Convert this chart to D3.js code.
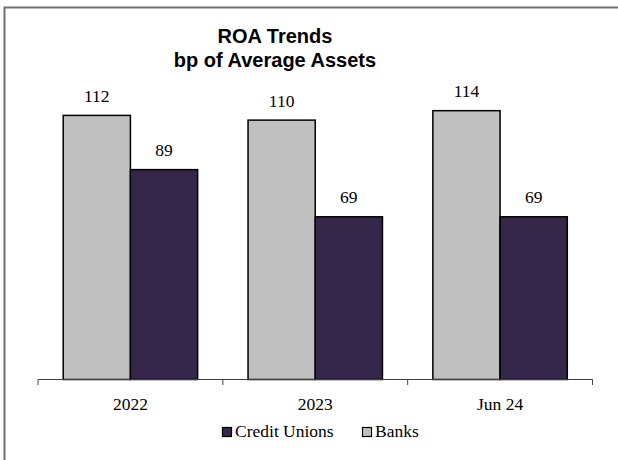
<!DOCTYPE html>
<html>
<head>
<meta charset="utf-8">
<script src="https://cdn.jsdelivr.net/npm/d3@7"></script>
<style>
  html, body { margin: 0; padding: 0; background: #fff; }
  svg { display: block; }
</style>
</head>
<body>
<svg id="chart" width="618" height="460"></svg>
<script>
// ROA by period, basis points of average assets
const categories = ["2022", "2023", "Jun 24"];
const seriesNames = ["Banks", "Credit Unions"];
const banks = [112, 110, 114];
const creditUnions = [89, 69, 69];
const legendOrder = ["Credit Unions", "Banks"];

const colors = { "Banks": "#c0c0c0", "Credit Unions": "#352749" };
const serif = "'Liberation Serif', 'Times New Roman', serif";
const serifSize = 17.5;

const svg = d3.select("#chart");

// outer chart frame (extends past the right and bottom edges)
svg.append("rect")
  .attr("x", 4.5).attr("y", 7.5)
  .attr("width", 700).attr("height", 600)
  .attr("fill", "#fff")
  .attr("stroke", "#707070")
  .attr("stroke-width", 2);

// title
const title = svg.append("text")
  .attr("text-anchor", "middle")
  .attr("font-family", "'Liberation Sans', Arial, sans-serif")
  .attr("font-weight", "bold")
  .attr("font-size", 20)
  .attr("fill", "#000");
title.append("tspan").attr("x", 275).attr("y", 42.5).text("ROA Trends");
title.append("tspan").attr("x", 275).attr("y", 67).text("bp of Average Assets");

// scales
const x = d3.scaleBand().domain(categories).range([38, 592.5]).padding(0);
const x1 = d3.scaleBand().domain(seriesNames).range([0, x.bandwidth()])
  .paddingInner(0).paddingOuter(0.375);
const y = d3.scaleLinear().domain([0, 140]).range([379.5, 379.5 - 2.358 * 140]);

const rows = categories.map((c, i) => ({
  cat: c,
  values: [
    { name: "Banks", value: banks[i] },
    { name: "Credit Unions", value: creditUnions[i] }
  ]
}));

const groups = svg.append("g").selectAll("g")
  .data(rows).join("g")
  .attr("transform", d => `translate(${x(d.cat)},0)`);

groups.selectAll("rect")
  .data(d => d.values).join("rect")
  .attr("x", d => x1(d.name))
  .attr("y", d => y(d.value))
  .attr("width", x1.bandwidth())
  .attr("height", d => y(0) - y(d.value))
  .attr("fill", d => colors[d.name])
  .attr("stroke", "#000")
  .attr("stroke-width", 1.5);

groups.selectAll("text.val")
  .data(d => d.values).join("text")
  .attr("class", "val")
  .attr("x", d => x1(d.name) + x1.bandwidth() / 2)
  .attr("y", d => y(d.value) - 13.5)
  .attr("text-anchor", "middle")
  .attr("font-family", serif)
  .attr("font-size", serifSize)
  .attr("fill", "#000")
  .text(d => d.value);

// category axis: baseline with tick marks on band boundaries
const axis = svg.append("g");
axis.append("line")
  .attr("x1", x.range()[0]).attr("x2", x.range()[1])
  .attr("y1", y(0)).attr("y2", y(0))
  .attr("stroke", "#404040").attr("stroke-width", 1);

const bounds = categories.map(c => x(c)).concat([x.range()[1]]);
axis.selectAll("line.tick")
  .data(bounds).join("line")
  .attr("class", "tick")
  .attr("x1", d => d).attr("x2", d => d)
  .attr("y1", y(0)).attr("y2", y(0) + 5.5)
  .attr("stroke", "#404040").attr("stroke-width", 1);

axis.selectAll("text")
  .data(categories).join("text")
  .attr("x", d => x(d) + x.bandwidth() / 2)
  .attr("y", 409.5)
  .attr("text-anchor", "middle")
  .attr("font-family", serif)
  .attr("font-size", serifSize)
  .attr("fill", "#000")
  .text(d => d);

// legend
const legendX = { "Credit Unions": 222, "Banks": 362 };
const legend = svg.append("g").selectAll("g")
  .data(legendOrder).join("g")
  .attr("transform", d => `translate(${legendX[d]},427)`);

legend.append("rect")
  .attr("x", 0.5).attr("y", 0.5)
  .attr("width", 9).attr("height", 9)
  .attr("fill", d => colors[d])
  .attr("stroke", "#000")
  .attr("stroke-width", 1.2);

legend.append("text")
  .attr("x", 13).attr("y", 10)
  .attr("font-family", serif)
  .attr("font-size", serifSize)
  .attr("fill", "#000")
  .text(d => d);
</script>
</body>
</html>
